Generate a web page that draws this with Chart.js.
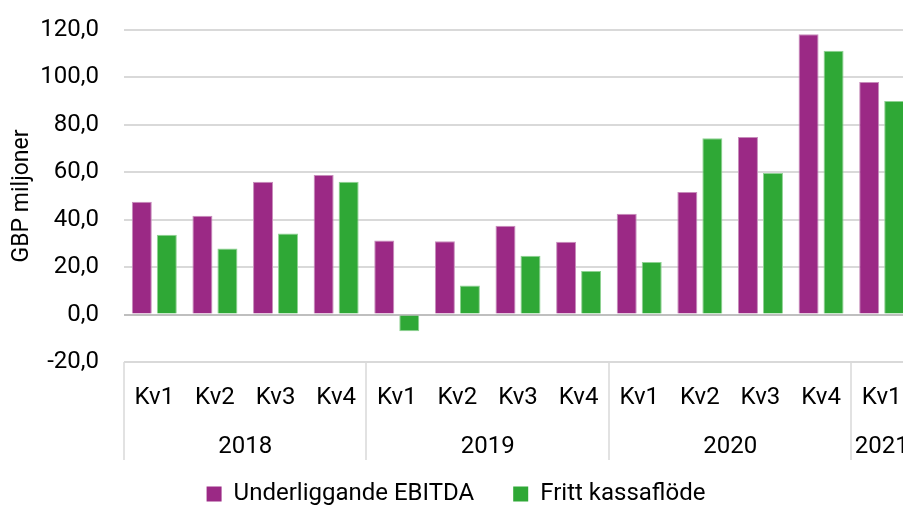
<!DOCTYPE html>
<html>
<head>
<meta charset="utf-8">
<script src="https://cdn.jsdelivr.net/npm/chart.js@4"></script>
<style>
    html, body { margin: 0; padding: 0; overflow: hidden; background: #fff; }
    #wrap { width: 920px; height: 507px; }
</style>
</head>
<body>
<div id="wrap"><canvas id="chart"></canvas></div>
<script>
// ========== 数据 ==========
const quarters = ['Kv1', 'Kv2', 'Kv3', 'Kv4', 'Kv1', 'Kv2', 'Kv3', 'Kv4', 'Kv1', 'Kv2', 'Kv3', 'Kv4', 'Kv1'];
const years = ['2018', '2018', '2018', '2018', '2019', '2019', '2019', '2019', '2020', '2020', '2020', '2020', '2021'];
const ebitda = [47.6, 41.7, 56.0, 58.9, 31.2, 30.9, 37.5, 30.7, 42.5, 51.7, 74.9, 118.2, 98.1];
const kassaflode = [33.7, 27.9, 34.2, 56.0, -7.0, 12.3, 24.8, 18.4, 22.2, 74.4, 59.7, 111.3, 90.1];
const yTicks = [-20, 0, 20, 40, 60, 80, 100, 120];

const FONT = 'Roboto, "Liberation Sans", sans-serif';
const GRID = '#d9d9d9';

// ========== 年份分组插件 ==========
const yearGroups = {
    id: 'yearGroups',
    afterDraw(chart) {
        const ctx = chart.ctx;
        const x = chart.scales.x;
        const top = chart.chartArea.bottom;
        const bottom = top + 98;
        const half = (x.getPixelForValue(1) - x.getPixelForValue(0)) / 2;

        // 分组边界
        const groups = [];
        let start = 0;
        for (let i = 1; i <= years.length; i++) {
            if (i === years.length || years[i] !== years[start]) {
                groups.push({ label: years[start], from: start, to: i - 1 });
                start = i;
            }
        }

        ctx.save();
        ctx.strokeStyle = GRID;
        ctx.lineWidth = 1.5;
        ctx.fillStyle = '#000';
        ctx.font = '24px ' + FONT;
        ctx.textAlign = 'center';
        ctx.textBaseline = 'middle';
        groups.forEach(g => {
            const left = Math.round(x.getPixelForValue(g.from) - half);
            ctx.beginPath();
            ctx.moveTo(left, top);
            ctx.lineTo(left, bottom);
            ctx.stroke();
            const mid = (x.getPixelForValue(g.from) + x.getPixelForValue(g.to)) / 2;
            ctx.fillText(g.label, mid, top + 85);
        });
        ctx.restore();
    }
};

// ========== 图表 ==========
new Chart(document.getElementById('chart'), {
    type: 'bar',
    data: {
        labels: quarters,
        datasets: [{
            label: 'Underliggande EBITDA',
            data: ebitda,
            backgroundColor: '#9b2985',
            borderColor: '#c78dbb',
            borderWidth: 1,
            categoryPercentage: 0.825,
            barPercentage: 0.8
        }, {
            label: 'Fritt kassaflöde',
            data: kassaflode,
            backgroundColor: '#2fa836',
            borderColor: '#8fd293',
            borderWidth: 1,
            categoryPercentage: 0.825,
            barPercentage: 0.8
        }]
    },
    options: {
        responsive: true,
        maintainAspectRatio: false,
        animation: false,
        layout: { padding: { top: 30, right: 8, bottom: -9, left: 0 } },
        plugins: {
            tooltip: { enabled: false },
            legend: {
                position: 'bottom',
                labels: {
                    boxWidth: 15,
                    boxHeight: 15,
                    padding: 39,
                    color: '#000',
                    font: { family: FONT, size: 24 },
                    generateLabels: chart => chart.data.datasets.map((ds, i) => ({
                        text: ds.label,
                        fillStyle: ds.backgroundColor,
                        strokeStyle: ds.backgroundColor,
                        lineWidth: 0,
                        datasetIndex: i,
                        hidden: false
                    }))
                }
            }
        },
        scales: {
            x: {
                grid: { display: false },
                border: { display: false },
                ticks: {
                    color: '#000',
                    padding: 14,
                    font: { family: FONT, size: 24 },
                    maxRotation: 0,
                    autoSkip: false
                },
                afterFit: scale => { scale.height = 81; }
            },
            y: {
                min: -20,
                max: 120,
                afterBuildTicks: scale => { scale.ticks = yTicks.map(v => ({ value: v })); },
                border: { display: false },
                grid: {
                    drawTicks: false,
                    lineWidth: 2,
                    color: c => c.tick && c.tick.value === 0 ? '#bfbfbf' : GRID
                },
                ticks: {
                    color: '#000',
                    padding: 25,
                    font: { family: FONT, size: 24 },
                    callback: v => v.toFixed(1).replace('.', ',')
                },
                title: {
                    display: true,
                    text: 'GBP miljoner',
                    color: '#000',
                    padding: { top: 8, bottom: 0 },
                    font: { family: FONT, size: 23 }
                },
                afterFit: scale => {
                    scale.width = 124;
                    scale.paddingTop = 0;
                    scale.paddingBottom = 0;
                }
            }
        }
    },
    plugins: [yearGroups]
});
</script>
</body>
</html>
